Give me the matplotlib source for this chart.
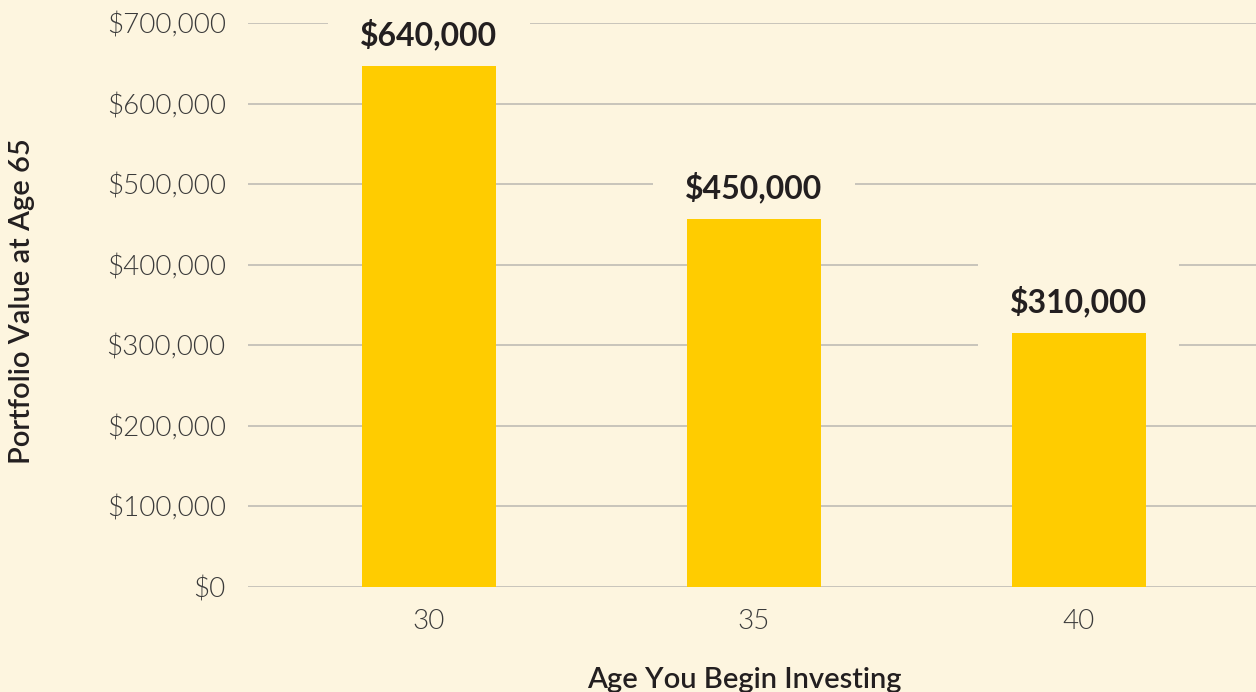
import matplotlib
matplotlib.use("Agg")
import matplotlib.pyplot as plt
from matplotlib.ticker import FuncFormatter

ages = ["30", "35", "40"]
portfolio_values = [647000, 457000, 315000]
value_labels = ["$640,000", "$450,000", "$310,000"]
y_ticks = [0, 100000, 200000, 300000, 400000, 500000, 600000, 700000]

BG = "#FDF5DF"
BAR = "#FFCC00"
GRID = "#BFBCB4"
TXT = "#231F20"
TICK = "#3a3a3a"

plt.rcParams['font.family'] = ['Lato', 'DejaVu Sans']

fig = plt.figure(figsize=(12.56, 6.92), dpi=100, facecolor=BG)
ax = fig.add_axes([248/1256, 1-587/692, 1008/1256, (587-23)/692])
ax.set_facecolor(BG)

x = list(range(len(ages)))
ax.bar(x, portfolio_values, width=0.41, color=BAR, zorder=2)
ax.set_xlim(-0.557, 2.545)
ax.set_ylim(0, 700000)
ax.set_yticks(y_ticks)
ax.yaxis.set_major_formatter(FuncFormatter(lambda v, p: f"${int(v):,}"))
ax.set_xticks(x)
ax.set_xticklabels(ages)
ax.grid(axis='y', color=GRID, linewidth=1.2, zorder=0)
ax.set_axisbelow(True)
for s in ax.spines.values():
    s.set_visible(False)
ax.tick_params(axis='both', length=0, labelsize=20, colors=TICK)
ax.tick_params(axis='y', pad=16)
ax.tick_params(axis='x', pad=16)
for lab in ax.get_xticklabels() + ax.get_yticklabels():
    lab.set_fontweight(300)

for xi, v, t in zip(x, portfolio_values, value_labels):
    ax.annotate(t, (xi, v), xytext=(0, 15), textcoords='offset points',
                ha='center', va='baseline', fontsize=23, fontweight='bold', color=TXT,
                bbox=dict(boxstyle='square,pad=1.0', facecolor=BG, edgecolor='none'),
                zorder=1)

fig.text(744/1256, 1-688/692, "Age You Begin Investing", ha='center', va='baseline',
         fontsize=21, fontweight='semibold', color=TXT)
fig.text(22/1256, 1-301/692, "Portfolio Value at Age 65", ha='center', va='center',
         rotation=90, fontsize=21, fontweight='semibold', color=TXT)

fig.savefig("out.png", dpi=100, facecolor=BG)
